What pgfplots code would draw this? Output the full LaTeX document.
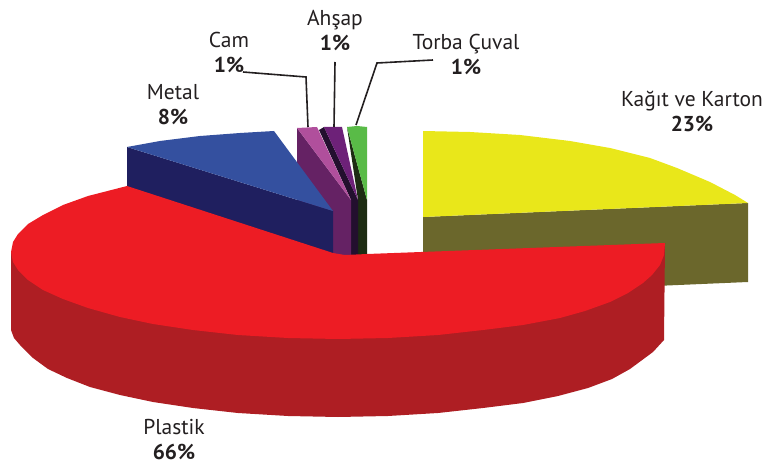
\documentclass[border=0pt]{standalone}
\usepackage{pgfplots}
\pgfplotsset{compat=1.18}
\usepackage{fontspec}
\setmainfont{PT Sans}
\definecolor{sari}{HTML}{E9E71A}
\definecolor{sarikoyu}{HTML}{6B672C}
\definecolor{kirmizi}{HTML}{ED1C24}
\definecolor{kirmizikoyu}{HTML}{AE1E23}
\definecolor{mavi}{HTML}{34509F}
\definecolor{lacivert}{HTML}{1F1F5F}
\definecolor{pembe}{HTML}{B04F9C}
\definecolor{pembekoyu}{HTML}{652264}
\definecolor{mor}{HTML}{6D2178}
\definecolor{morkoyu}{HTML}{230F2E}
\definecolor{yesil}{HTML}{59BB47}
\definecolor{yesilkoyu}{HTML}{1D2C13}
\definecolor{cizgi}{HTML}{231F20}
\newcommand{\etiket}[4]{%
  \node[align=center,text=cizgi,inner sep=0pt,font=\fontsize{21.5}{25}\selectfont]
    at (axis cs:#1,#2) {#3\\\textbf{#4}};}
\begin{document}
\begin{tikzpicture}
\begin{axis}[
    scale only axis, width=765pt, height=465pt,
    xmin=0, xmax=765, ymin=0, ymax=465,
    y dir=reverse, hide axis, clip=false, no markers,
    every axis plot/.append style={draw=none, line join=miter},
  ]
  \path (rel axis cs:0,0) rectangle (rel axis cs:1,1);
  % Kagit ve Karton
  \addplot[fill=sarikoyu] coordinates {(423,217)(748,203)(748,282)(423,296)} -- cycle;
  \addplot[fill=sari] coordinates {(423,131)(470,132)(520,135)(570,141)(610,148)(650,158)
    (677,168)(710,182)(735,195)(748,203)(423,217)} -- cycle;
  % Torba Cuval
  \addplot[fill=yesilkoyu] coordinates {(347,127)(367,200)(367,256)(358,256)(358,200)} -- cycle;
  \addplot[fill=yesil] coordinates {(347,127)(357,126)(367,127)(367,200)} -- cycle;
  % Ahsap
  \addplot[fill=morkoyu] coordinates {(319,130)(324,127)(358,200)(358,256)(351,256)(351,200)} -- cycle;
  \addplot[fill=mor] coordinates {(324,127)(342,127)(358,200)} -- cycle;
  % Cam
  \addplot[fill=pembekoyu] coordinates {(297,128)(351,200)(351,256)(333,256)(297,200)} -- cycle;
  \addplot[fill=pembe] coordinates {(297,128)(317,127)(351,200)} -- cycle;
  % Metal
  \addplot[fill=lacivert] coordinates {(127,147)(333,211)(333,256)(127,190)} -- cycle;
  \addplot[fill=mavi] coordinates {(127,147)(160,141)(200,136)(240,133)(274,131)(333,211)} -- cycle;
  % Plastik
  \addplot[fill=kirmizikoyu] coordinates {(11,252)(11,330)(14,338)(20,345)(33,358)(48,369)(67,378)
    (90,387)(120,395)(153,402)(193,408)(238,413)(288,416)(338,417)(388,416)(438,413)
    (483,408)(523,403)(558,396)(588,388)(612,379)(630,369)(653,352)(664,340)
    (665,243)(338,300)} -- cycle;
  \addplot[fill=kirmizi] coordinates {(11,252)(13,242)(18,234)(28,224)(43,215)(63,205)(88,196)
    (127,186)(333,253)(345,255)(367,254)(665,243)(664,255)(660,265)(652,275)(643,283)(628,293)
    (610,302)(585,311)(560,318)(523,325)(483,330)(438,335)(388,338)(338,339)(288,338)
    (238,335)(193,330)(153,324)(120,317)(88,308)(63,299)(43,290)(28,280)(18,270)(13,262)} -- cycle;
  % kilavuz cizgileri
  \addplot[draw=cizgi, line width=1.6pt] coordinates {(243,72)(306,77)(308,127)};
  \addplot[draw=cizgi, line width=1.6pt] coordinates {(335,62)(334,127)};
  \addplot[draw=cizgi, line width=1.6pt] coordinates {(433,60)(377,63)(356,125)};
  % etiketler
  \etiket{692}{111}{Kağıt ve Karton}{23\%}
  \etiket{173}{105}{Metal}{8\%}
  \etiket{229}{52}{Cam}{1\%}
  \etiket{335}{31}{Ahşap}{1\%}
  \etiket{466}{54}{Torba Çuval}{1\%}
  \etiket{174}{440}{Plastik}{66\%}
\end{axis}
\end{tikzpicture}
\end{document}
